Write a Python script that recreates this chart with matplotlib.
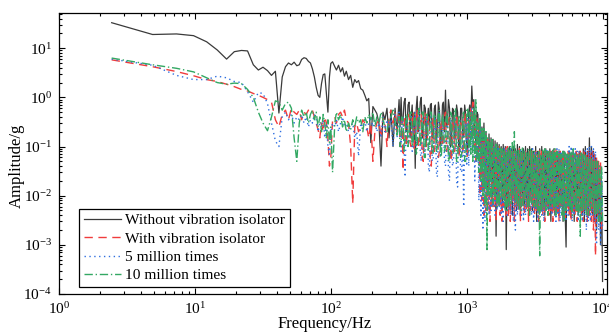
import matplotlib
matplotlib.use('Agg')
import matplotlib.pyplot as plt

plt.rcParams['font.family'] = ['Liberation Serif']
plt.rcParams['mathtext.fontset'] = 'stix'

# ── frequency bins (Hz) ──
freq = [
    2.44, 4.88, 7.32, 9.77, 12.2, 14.6, 17.1, 19.5, 22.0, 24.4,
    26.9, 29.3, 31.7, 34.2, 36.6, 39.1, 41.5, 43.9, 46.4, 48.8,
    51.3, 53.7, 56.2, 58.6, 61.0, 63.5, 65.9, 68.4, 70.8, 73.2,
    75.7, 78.1, 80.6, 83.0, 85.4, 87.9, 90.3, 92.8, 95.2, 97.7,
    100, 103, 107, 110, 114, 118, 122, 126, 130, 135,
    140, 145, 150, 155, 160, 166, 172, 178, 184, 190,
    197, 204, 211, 218, 226, 234, 242, 250, 259, 268,
    277, 287, 297, 307,
    318, 323, 329, 334, 340, 346, 352, 358, 364, 370,
    377, 383, 390, 397, 404, 411, 418, 425, 432, 440,
    447, 455, 463, 471, 479, 487, 496, 504, 513, 522,
    531, 540, 549, 558, 568, 578, 588, 598, 608, 619,
    630, 641, 652, 663, 674, 686, 698, 710, 722, 734,
    747, 760, 773, 786, 800, 814, 828, 842, 857, 872,
    887, 902, 918, 934, 950, 966, 983, 1000,
    1017, 1035, 1053, 1071, 1090, 1109, 1128, 1147, 1167, 1187,
    1208, 1229, 1250, 1272, 1294, 1316, 1339, 1362, 1386, 1410,
    1434, 1459, 1484, 1510, 1536, 1563, 1590, 1617, 1645, 1674,
    1703, 1732, 1762, 1793, 1824, 1856, 1888, 1921, 1954, 1988,
    2022, 2057, 2093, 2129, 2166, 2204, 2242, 2281, 2320, 2360,
    2401, 2443, 2485, 2528, 2572, 2617, 2662, 2708, 2755, 2803,
    2851, 2901, 2951, 3002, 3054, 3107, 3161, 3216, 3271, 3328,
    3386, 3444, 3504, 3565, 3627, 3690, 3753, 3819, 3885, 3952,
    4020, 4090, 4161, 4233, 4306, 4381, 4457, 4535, 4613, 4693,
    4774, 4857, 4941, 5027, 5114, 5203, 5292, 5385, 5478, 5573,
    5669, 5768, 5867, 5970, 6073, 6179, 6285, 6394, 6505, 6618,
    6732, 6850, 6968, 7089, 7211, 7337, 7463, 7593, 7724, 7859,
    7995, 8134, 8274, 8418, 8563, 8712, 8863, 9017, 9173, 9332,
    9494, 9658, 9826, 9990,
]

# ── amplitudes (g) ──
amp_without = [
    33, 19, 19.5, 18, 13.5, 9.2, 6.0, 8.5, 9.0, 8.8,
    4.6, 3.6, 4.1, 3.5, 2.8, 3.4, 0.48, 2.6, 4.2, 5.0,
    4.6, 5.2, 4.4, 4.6, 5.9, 6.4, 6.2, 5.4, 5.0, 3.8,
    2.6, 1.6, 1.1, 1.0, 1.9, 2.9, 3.0, 1.2, 0.5, 2.6,
    4.9, 5.3, 4.2, 3.6, 4.5, 3.3, 4.0, 2.7, 3.4, 2.3,
    2.8, 1.6, 2.3, 2.0, 2.2, 1.5, 1.4, 1.1, 0.85, 0.95,
    0.12, 0.65, 0.55, 0.47, 0.3, 0.04, 0.5, 0.35, 0.6, 0.15,
    0.55, 0.1, 0.6, 0.2,
    0.9, 0.25, 1.0, 0.3, 0.35, 0.8, 0.95, 0.2, 0.25, 0.7,
    0.8, 0.15, 0.4, 0.7, 0.15, 0.5, 0.036, 0.6, 1.05, 0.2,
    0.3, 0.8, 1.0, 0.15, 0.2, 0.7, 0.6, 0.12, 0.35, 0.6,
    0.25, 0.7, 0.75, 0.15, 0.15, 0.6, 0.7, 0.12, 0.2, 0.8,
    0.55, 0.1, 0.15, 0.7, 0.8, 0.2, 1.4, 0.25, 0.3, 0.9,
    0.6, 0.1, 0.12, 0.6, 0.55, 0.15, 0.15, 0.7, 0.5, 0.1,
    0.1, 0.6, 0.6, 0.15, 0.2, 0.7, 0.45, 0.08,
    0.1, 0.5, 0.7, 0.3, 1.7, 0.6, 0.9, 0.2, 0.12, 0.5,
    0.45, 0.08, 0.35, 0.04, 0.25, 0.05, 0.3, 0.02, 0.2, 0.03,
    0.01, 0.18, 0.02, 0.15, 0.006, 0.14, 0.012, 0.13, 0.0015, 0.12,
    0.01, 0.11, 0.02, 0.1, 0.005, 0.11, 0.008, 0.1, 0.0008, 0.09,
    0.006, 0.1, 0.012, 0.09, 0.004, 0.1, 0.008, 0.09, 0.005, 0.11,
    0.007, 0.1, 0.004, 0.08, 0.01, 0.09, 0.005, 0.1, 0.006, 0.09,
    0.004, 0.1, 0.008, 0.09, 0.005, 0.08, 0.007, 0.1, 0.003, 0.08,
    0.006, 0.09, 0.005, 0.1, 0.007, 0.08, 0.004, 0.09, 0.006, 0.08,
    0.005, 0.09, 0.003, 0.08, 0.006, 0.09, 0.004, 0.07, 0.005, 0.08,
    0.004, 0.08, 0.006, 0.07, 0.003, 0.08, 0.005, 0.0009, 0.07, 0.006,
    0.08, 0.004, 0.07, 0.005, 0.08, 0.003, 0.06, 0.005, 0.07, 0.004,
    0.08, 0.005, 0.07, 0.004, 0.09, 0.003, 0.1, 0.005, 0.08, 0.004,
    0.15, 0.006, 0.1, 0.004, 0.08, 0.003, 0.06, 0.002, 0.05, 0.003,
    0.03, 0.001, 0.02, 0.00018,
]

amp_with = [
    5.8, 4.2, 3.35, 2.75, 2.3, 2.1, 1.85, 1.65, 1.45, 1.35,
    1.2, 1.1, 1.0, 0.9, 0.8, 0.35, 0.25, 0.45, 0.55, 0.35,
    0.6, 0.5, 0.45, 0.55, 0.35, 0.5, 0.45, 0.55, 0.5, 0.55,
    0.4, 0.3, 0.22, 0.15, 0.3, 0.2, 0.4, 0.3, 0.15, 0.04,
    0.06, 0.35, 0.4, 0.3, 0.45, 0.5, 0.4, 0.55, 0.35, 0.3,
    0.1, 0.007, 0.25, 0.3, 0.2, 0.25, 0.35, 0.3, 0.25, 0.15,
    0.3, 0.05, 0.2, 0.3, 0.35, 0.15, 0.4, 0.3, 0.1, 0.4,
    0.55, 0.3, 0.5, 0.2,
    0.5, 0.1, 0.15, 0.35, 0.033, 0.3, 0.4, 0.1, 0.15, 0.4,
    0.45, 0.12, 0.1, 0.35, 0.5, 0.08, 0.2, 0.4, 0.6, 0.1,
    0.1, 0.4, 0.45, 0.06, 0.05, 0.35, 0.5, 0.1, 0.15, 0.4,
    0.35, 0.05, 0.04, 0.3, 0.4, 0.08, 0.12, 0.35, 0.3, 0.06,
    0.08, 0.3, 0.35, 0.1, 0.15, 0.4, 0.5, 0.08, 0.1, 0.35,
    0.4, 0.05, 0.06, 0.3, 0.35, 0.08, 0.12, 0.4, 0.45, 0.06,
    0.08, 0.3, 0.3, 0.07, 0.1, 0.4, 0.5, 0.06,
    0.07, 0.4, 0.15, 0.6, 0.15, 0.8, 0.1, 0.5, 0.05, 0.4,
    0.05, 0.3, 0.01, 0.2, 0.008, 0.2, 0.004, 0.15, 0.005, 0.15,
    0.005, 0.12, 0.003, 0.1, 0.006, 0.1, 0.006, 0.09, 0.003, 0.08,
    0.006, 0.1, 0.004, 0.09, 0.003, 0.08, 0.006, 0.09, 0.004, 0.1,
    0.004, 0.09, 0.003, 0.08, 0.007, 0.09, 0.003, 0.08, 0.006, 0.07,
    0.005, 0.09, 0.003, 0.08, 0.006, 0.07, 0.004, 0.08, 0.005, 0.07,
    0.003, 0.09, 0.005, 0.08, 0.006, 0.07, 0.004, 0.08, 0.005, 0.07,
    0.003, 0.09, 0.005, 0.08, 0.004, 0.07, 0.003, 0.08, 0.006, 0.07,
    0.004, 0.08, 0.005, 0.07, 0.003, 0.08, 0.005, 0.09, 0.004, 0.07,
    0.003, 0.08, 0.006, 0.07, 0.004, 0.08, 0.003, 0.07, 0.005, 0.08,
    0.004, 0.07, 0.003, 0.08, 0.005, 0.07, 0.004, 0.08, 0.003, 0.07,
    0.005, 0.08, 0.004, 0.07, 0.003, 0.08, 0.005, 0.07, 0.003, 0.08,
    0.004, 0.07, 0.003, 0.08, 0.002, 0.07, 0.0006, 0.06, 0.004, 0.05,
    0.003, 0.05, 0.002, 0.002,
]

amp_5m = [
    6.0, 4.5, 2.8, 2.3, 2.3, 2.7, 2.5, 2.1, 2.0, 1.3,
    0.8, 1.25, 1.2, 0.75, 0.3, 0.13, 0.1, 0.4, 0.5, 0.35,
    0.45, 0.3, 0.4, 0.35, 0.45, 0.3, 0.4, 0.25, 0.35, 0.3,
    0.45, 0.35, 0.2, 0.3, 0.25, 0.35, 0.15, 0.3, 0.1, 0.07,
    0.2, 0.3, 0.25, 0.35, 0.2, 0.3, 0.4, 0.25, 0.3, 0.2,
    0.25, 0.3, 0.15, 0.2, 0.064, 0.3, 0.25, 0.35, 0.2, 0.3,
    0.4, 0.25, 0.35, 0.2, 0.3, 0.15, 0.4, 0.2, 0.35, 0.25,
    0.4, 0.1, 0.45, 0.15,
    0.5, 0.2, 0.08, 0.3, 0.4, 0.1, 0.024, 0.25, 0.35, 0.1,
    0.15, 0.35, 0.45, 0.08, 0.1, 0.4, 0.5, 0.1, 0.15, 0.45,
    0.55, 0.08, 0.05, 0.35, 0.5, 0.06, 0.1, 0.4, 0.4, 0.04,
    0.03, 0.35, 0.45, 0.05, 0.06, 0.3, 0.4, 0.03, 0.024, 0.4,
    0.5, 0.06, 0.08, 0.3, 0.35, 0.05, 0.04, 0.3, 0.45, 0.03,
    0.02, 0.35, 0.3, 0.04, 0.05, 0.35, 0.4, 0.02, 0.015, 0.3,
    0.35, 0.03, 0.03, 0.2, 0.006, 0.15, 0.3, 0.04,
    0.5, 0.04, 0.4, 0.1, 0.6, 0.08, 0.5, 0.02, 0.35, 0.05,
    0.3, 0.008, 0.25, 0.004, 0.2, 0.002, 0.2, 0.003, 0.15, 0.003,
    0.12, 0.004, 0.1, 0.005, 0.1, 0.006, 0.1, 0.004, 0.09, 0.005,
    0.1, 0.006, 0.08, 0.004, 0.08, 0.003, 0.09, 0.005, 0.09, 0.004,
    0.08, 0.005, 0.09, 0.004, 0.09, 0.003, 0.08, 0.002, 0.08, 0.004,
    0.08, 0.005, 0.09, 0.004, 0.09, 0.003, 0.08, 0.004, 0.08, 0.006,
    0.07, 0.005, 0.07, 0.004, 0.09, 0.003, 0.08, 0.005, 0.08, 0.003,
    0.08, 0.005, 0.07, 0.004, 0.07, 0.003, 0.09, 0.005, 0.09, 0.004,
    0.07, 0.005, 0.07, 0.004, 0.08, 0.006, 0.08, 0.003, 0.09, 0.004,
    0.09, 0.003, 0.08, 0.005, 0.08, 0.004, 0.07, 0.003, 0.07, 0.004,
    0.1, 0.005, 0.1, 0.003, 0.09, 0.004, 0.09, 0.005, 0.08, 0.003,
    0.08, 0.004, 0.07, 0.003, 0.07, 0.004, 0.09, 0.002, 0.09, 0.003,
    0.1, 0.003, 0.1, 0.004, 0.09, 0.003, 0.08, 0.001, 0.05, 0.002,
    0.04, 0.001, 0.03, 0.002,
]

amp_10m = [
    6.3, 4.6, 3.9, 3.3, 2.5, 2.0, 1.85, 1.95, 1.9, 1.45,
    1.0, 0.5, 0.3, 0.21, 0.4, 0.85, 0.8, 0.55, 0.75, 0.8,
    0.6, 0.15, 0.05, 0.3, 0.55, 0.4, 0.5, 0.3, 0.45, 0.55,
    0.35, 0.5, 0.25, 0.4, 0.2, 0.45, 0.3, 0.15, 0.35, 0.12,
    0.25, 0.03, 0.3, 0.5, 0.35, 0.45, 0.25, 0.35, 0.2, 0.3,
    0.22, 0.35, 0.25, 0.4, 0.3, 0.35, 0.2, 0.4, 0.3, 0.45,
    0.35, 0.5, 0.25, 0.4, 0.3, 0.5, 0.35, 0.25, 0.2, 0.35,
    0.4, 0.55, 0.3, 0.17,
    0.4, 0.1, 0.12, 0.4, 0.35, 0.08, 0.15, 0.45, 0.45, 0.1,
    0.2, 0.5, 0.5, 0.1, 0.12, 0.45, 0.4, 0.07, 0.08, 0.5,
    0.6, 0.1, 0.15, 0.5, 0.5, 0.06, 0.06, 0.45, 0.45, 0.08,
    0.1, 0.5, 0.5, 0.07, 0.08, 0.45, 0.45, 0.08, 0.1, 0.5,
    0.55, 0.06, 0.07, 0.45, 0.4, 0.08, 0.1, 0.5, 0.5, 0.05,
    0.06, 0.5, 0.45, 0.07, 0.08, 0.55, 0.6, 0.05, 0.05, 0.4,
    0.4, 0.06, 0.07, 0.45, 0.5, 0.05, 0.05, 0.6,
    0.6, 0.08, 0.5, 0.07, 0.5, 0.05, 0.6, 0.06, 0.9, 0.05,
    0.3, 0.03, 0.4, 0.02, 0.25, 0.01, 0.25, 0.006, 0.2, 0.0008,
    0.15, 0.01, 0.12, 0.008, 0.15, 0.007, 0.1, 0.01, 0.12, 0.006,
    0.1, 0.006, 0.1, 0.009, 0.09, 0.008, 0.09, 0.005, 0.08, 0.005,
    0.1, 0.006, 0.1, 0.007, 0.12, 0.01, 0.2, 0.007, 0.08, 0.006,
    0.09, 0.005, 0.09, 0.005, 0.1, 0.006, 0.08, 0.008, 0.08, 0.005,
    0.09, 0.004, 0.09, 0.007, 0.08, 0.006, 0.08, 0.006, 0.07, 0.005,
    0.08, 0.0006, 0.07, 0.005, 0.09, 0.006, 0.09, 0.005, 0.08, 0.004,
    0.08, 0.006, 0.08, 0.007, 0.09, 0.005, 0.09, 0.004, 0.08, 0.006,
    0.07, 0.006, 0.07, 0.004, 0.08, 0.003, 0.08, 0.005, 0.07, 0.006,
    0.07, 0.005, 0.08, 0.004, 0.09, 0.006, 0.07, 0.005, 0.07, 0.004,
    0.07, 0.0015, 0.08, 0.005, 0.07, 0.005, 0.07, 0.004, 0.06, 0.004,
    0.06, 0.005, 0.06, 0.006, 0.05, 0.004, 0.05, 0.004, 0.05, 0.003,
    0.04, 0.003, 0.04, 0.003,
]

labels = ['Without vibration isolator', 'With vibration isolator',
          '5 million times', '10 million times']

# ── figure ──
fig = plt.figure(figsize=(6.09, 3.36), dpi=100)
ax = fig.add_axes([0.0969, 0.125, 0.8998, 0.8363])

ax.plot(freq, amp_without, color='#3a3a3a', lw=0.9, label=labels[0])
ax.plot(freq, amp_with, color='#f03c3c', lw=1.0, dashes=(6, 4), label=labels[1])
ax.plot(freq, amp_5m, color='#2f6fe0', lw=1.0, dashes=(1, 2.5), label=labels[2])
ax.plot(freq, amp_10m, color='#33a863', lw=1.0, dashes=(6, 2, 1, 2), label=labels[3])

ax.set_xscale('log')
ax.set_yscale('log')
ax.set_xlim(1, 1.077e4)
ax.set_ylim(1e-4, 52)

ax.set_xlabel('Frequency/Hz', fontsize=12)
ax.set_ylabel('Amplitude/g', fontsize=12)
ax.xaxis.set_label_coords(0.484, -0.08)
ax.yaxis.set_label_coords(-0.062, 0.455)

ax.tick_params(which='both', direction='in', top=True, right=True, width=0.8)
ax.tick_params(which='major', length=4.5, labelsize=11, pad=5)
ax.tick_params(which='minor', length=2.2)
for s in ax.spines.values():
    s.set_linewidth(0.9)

leg = ax.legend(loc='lower left', bbox_to_anchor=(0.0365, 0.025), borderaxespad=0,
                fontsize=11.1, frameon=True, fancybox=False, framealpha=1,
                edgecolor='black', handlelength=2.4, handletextpad=0.3,
                labelspacing=0.3, borderpad=0.3)
leg.get_frame().set_linewidth(0.9)

fig.savefig('out.png', dpi=100)
